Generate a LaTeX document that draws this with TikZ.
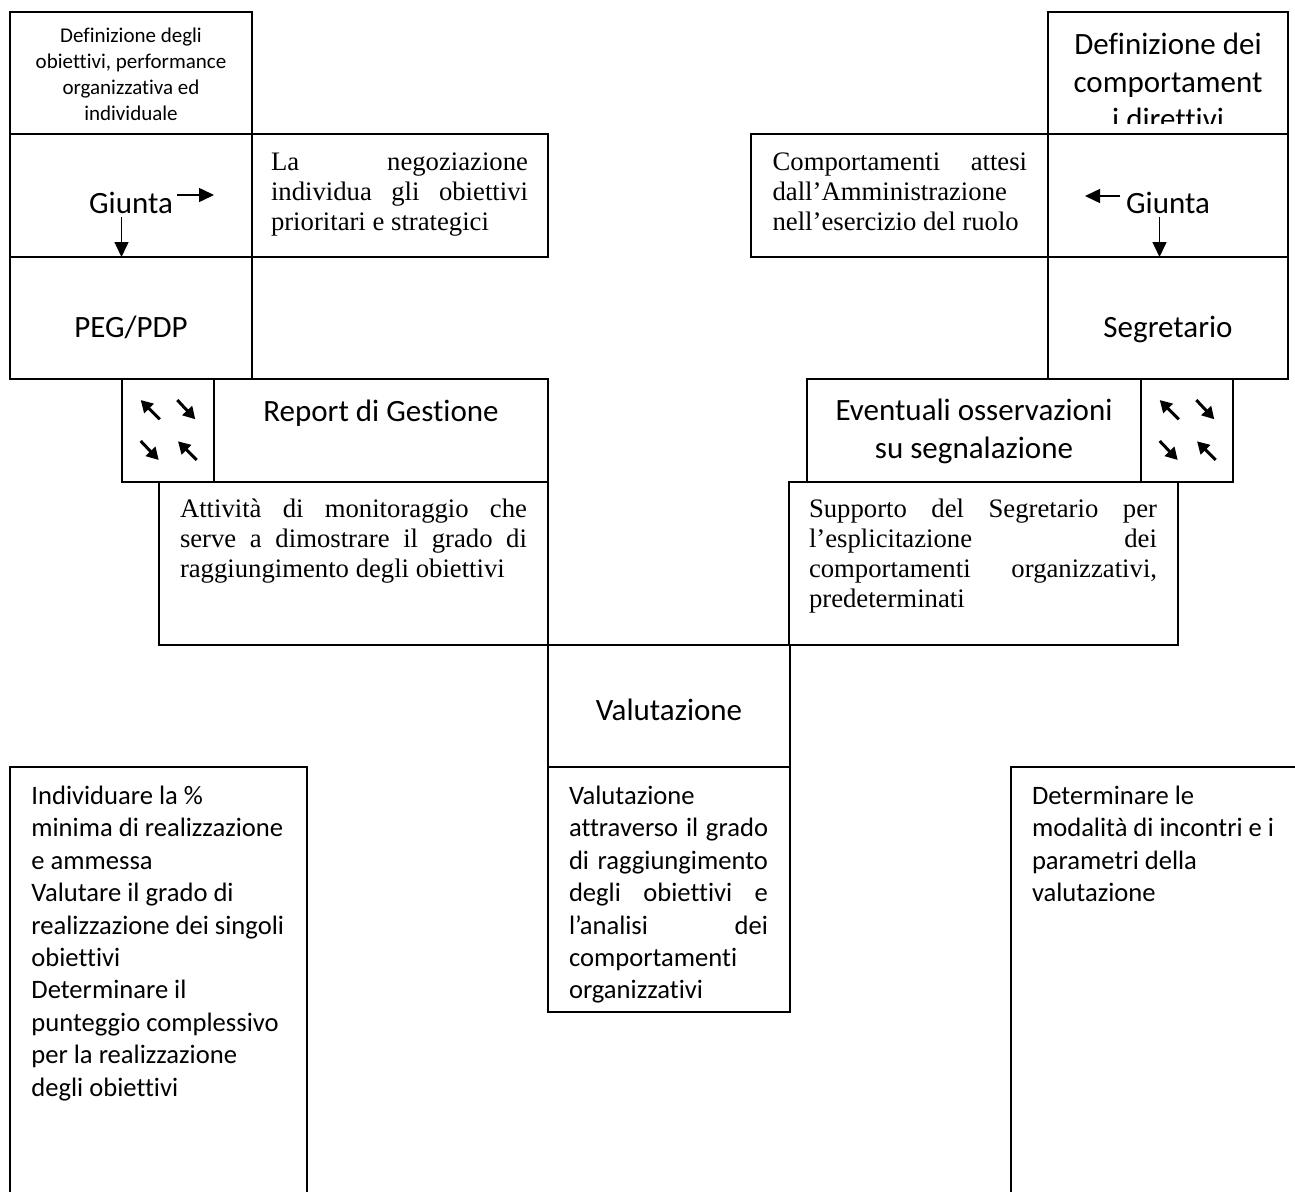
\documentclass[tikz,border=0pt]{standalone}
\usepackage{fontspec}
\setmainfont{Carlito}[Ligatures=NoCommon]
\newfontfamily\tnr{Liberation Serif}
\usetikzlibrary{arrows.meta}
\tikzset{
  box/.style={draw, line width=1.4pt, rectangle, anchor=north west, inner sep=0pt, outer sep=0pt},
  txt/.style={inner sep=0pt, outer sep=0pt},
  calS/.style={font=\fontsize{21}{25.7}\selectfont},
  calL/.style={font=\fontsize{31}{37.5}\selectfont},
  calM/.style={font=\fontsize{26.6}{32.4}\selectfont},
  serif/.style={font=\tnr\fontsize{26.7}{30}\selectfont},
  arr/.style={line width=1.5pt, -{Triangle[length=15pt,width=14pt]}},
  qarr/.style={line width=3pt, -{Triangle[length=12pt,width=13pt]}},
  quad/.pic={
    \draw[qarr] (37.7,40.3) -- (18.7,21);
    \draw[qarr] (55.3,21) -- (73.3,40.3);
    \draw[qarr] (18.7,62) -- (36.7,81);
    \draw[qarr] (74.7,81) -- (56,62.3);
  }
}
\newcommand\bx[5]{\node[box, minimum width={(#4-#2)*1pt}, minimum height={(#5-#3)*1pt}] (#1) at (#2,#3) {};}
\begin{document}
\begin{tikzpicture}[x=1pt,y=-1pt]
\useasboundingbox (0,0) rectangle (1295,1191);
% boxes
\bx{tl}{10}{12}{252}{134}
\bx{giuL}{10}{134}{252}{257}
\bx{nego}{252}{134}{548}{257}
\bx{peg}{10}{257}{252}{379}
\bx{quadL}{122}{379}{214}{482}
\bx{rep}{214}{379}{548}{482}
\bx{att}{159}{482}{548}{645}
\bx{valt}{548}{645}{790}{767}
\bx{valx}{548}{767}{790}{1012}
\bx{lb}{10}{767}{307}{1205}
\bx{tr}{1048}{12}{1288}{134}
\bx{comp}{751}{134}{1048}{257}
\bx{giuR}{1048}{134}{1288}{257}
\bx{seg}{1048}{257}{1288}{379}
\bx{evt}{807}{379}{1141}{482}
\bx{quadR}{1141}{379}{1233}{482}
\bx{sup}{789}{482}{1178}{645}
\bx{rb}{1011}{767}{1310}{1205}
% texts left
\node[txt, calS, align=center, anchor=north] (tlT) at (131,25)
  {\strut Definizione degli\\obiettivi, performance\\organizzativa ed\\individuale};
\node[txt, calL, anchor=base] (giuLT) at (131,213) {Giunta};
\node[txt, serif, align=left, anchor=north west] (negoT) at (271,149)
  {\strut\makebox[257pt][s]{La negoziazione}\\\makebox[257pt][s]{individua gli obiettivi}\\prioritari e strategici};
\node[txt, calL, anchor=base] (pegT) at (131,337) {PEG/PDP};
\node[txt, calL, anchor=base] (repT) at (381,421) {Report di Gestione};
\node[txt, serif, align=left, anchor=north west] (attT) at (180,496)
  {\strut\makebox[347pt][s]{Attività di monitoraggio che}\\\makebox[347pt][s]{serve a dimostrare il grado di}\\raggiungimento degli obiettivi};
\node[txt, calL, anchor=base] (valtT) at (669,720) {Valutazione};
\begin{scope}
\clip (548,767) rectangle (790,1003);
\node[txt, calM, align=left, anchor=north west] (valxT) at (569,781.8)
  {\strut Valutazione\\\makebox[199pt][s]{attraverso il grado}\\\makebox[199pt][s]{di raggiungimento}\\\makebox[199pt][s]{degli obiettivi e}\\\makebox[199pt][s]{l’analisi dei}\\comportamenti\\organizzativi};
\end{scope}
\node[txt, calM, align=left, anchor=north west] (lbT) at (31.4,781.8)
  {\strut Individuare la \%\\minima di realizzazione\\e ammessa\\Valutare il grado di\\realizzazione dei singoli\\obiettivi\\Determinare il\\punteggio complessivo\\per la realizzazione\\degli obiettivi};
\node[txt, calM, align=left, anchor=north west] (rbT) at (1032,781.8)
  {\strut Determinare le\\modalità di incontri e i\\parametri della\\valutazione};
% texts right
\begin{scope}
\clip (1048,12) rectangle (1288,123);
\node[txt, calL, align=center, anchor=north] (trT) at (1168,28.25)
  {\strut Definizione dei\\comportament\\i direttivi};
\end{scope}
\node[txt, serif, align=left, anchor=north west] (compT) at (772.6,149)
  {\strut\makebox[254.5pt][s]{Comportamenti attesi}\\dall’Amministrazione\\nell’esercizio del ruolo};
\node[txt, calL, anchor=base] (giuRT) at (1168,213) {Giunta};
\node[txt, calL, anchor=base] (segT) at (1168,337) {Segretario};
\node[txt, calL, align=center, anchor=north] (evtT) at (974,394.4)
  {\strut Eventuali osservazioni\\su segnalazione};
\node[txt, serif, font=\tnr\fontsize{26.7}{30.3}\selectfont, align=left, anchor=north west] (supT) at (809,495.8)
  {\strut\makebox[348pt][s]{Supporto del Segretario per}\\\makebox[348pt][s]{l’esplicitazione dei}\\\makebox[348pt][s]{comportamenti organizzativi,}\\predeterminati};
% arrows
\coordinate (gLr1) at (177,195);
\coordinate (gLr2) at (214,195);
\coordinate (gLd1) at (121.5,217);
\coordinate (gLd2) at (121.5,257);
\coordinate (gRl1) at (1120,196);
\coordinate (gRl2) at (1085,196);
\coordinate (gRd1) at (1159.5,217);
\coordinate (gRd2) at (1159.5,257);
\draw[arr] (gLr1) -- (gLr2);
\draw[arr] (gLd1) -- (gLd2);
\draw[arr] (gRl1) -- (gRl2);
\draw[arr] (gRd1) -- (gRd2);
\pic at (quadL.north west) {quad};
\pic at (quadR.north west) {quad};
\end{tikzpicture}
\end{document}
